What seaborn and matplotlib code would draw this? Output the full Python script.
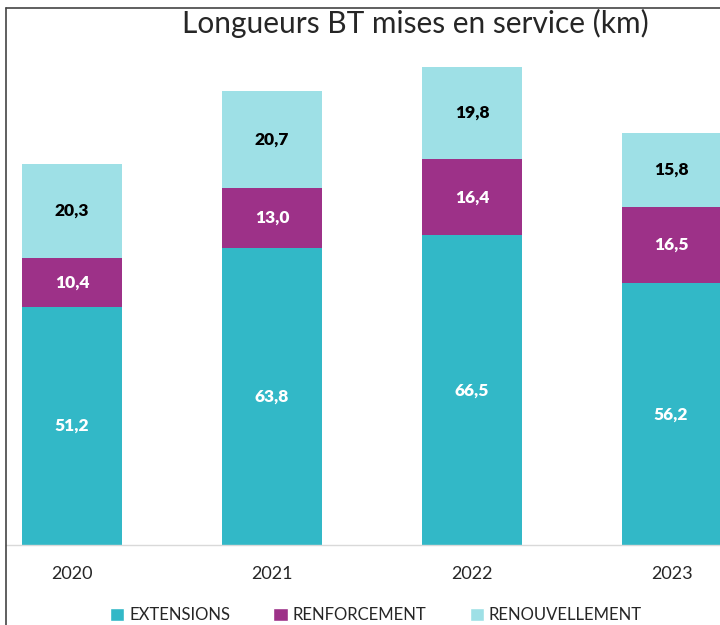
import pandas as pd
import seaborn as sns
import matplotlib.pyplot as plt
from matplotlib.patches import Patch
from matplotlib.lines import Line2D

# Valeurs (km)
years = ['2020', '2021', '2022', '2023']
extensions = [51.2, 63.8, 66.5, 56.2]
renforcement = [10.4, 13.0, 16.4, 16.5]
renouvellement = [20.3, 20.7, 19.8, 15.8]
series_names = ['EXTENSIONS', 'RENFORCEMENT', 'RENOUVELLEMENT']
colors = ['#32B8C7', '#9D3188', '#9EE0E6']
label_colors = ['white', 'white', 'black']

sns.set_style('white')
plt.rcParams['font.family'] = ['Lato', 'DejaVu Sans']

df = pd.DataFrame({'year': years, 'EXTENSIONS': extensions,
                   'RENFORCEMENT': renforcement, 'RENOUVELLEMENT': renouvellement})

fig = plt.figure(figsize=(7.2, 6.25), dpi=100)
ax = fig.add_axes([6 / 720, 80 / 625, 714 / 720, 512 / 625])

bottom = [0.0] * len(years)
for name, col, lc in zip(series_names, colors, label_colors):
    sns.barplot(data=df, x='year', y=name, order=years, color=col,
                bottom=bottom, width=0.5, ax=ax, saturation=1, linewidth=0)
    cont = ax.containers[-1]
    ax.bar_label(cont, labels=[f'{v:.1f}'.replace('.', ',') for v in df[name]],
                 label_type='center', color=lc, fontsize=12.5, fontweight='heavy')
    bottom = [b + v for b, v in zip(bottom, df[name])]

ax.set_xlim(-0.33, 3.24)
ax.set_ylim(0, 110)
ax.set_xlabel('')
ax.set_ylabel('')
ax.set_yticks([])
ax.tick_params(axis='x', length=0, pad=15, labelsize=13)
for s in ['top', 'left', 'right']:
    ax.spines[s].set_visible(False)
ax.spines['bottom'].set_color('#D9D9D9')
ax.spines['bottom'].set_linewidth(1)

fig.text(415 / 720, 1 - 23 / 625, 'Longueurs BT mises en service (km)',
         ha='center', va='center', fontsize=21.5)

handles = [Patch(facecolor=c, label=n) for c, n in zip(colors, series_names)]
fig.legend(handles=handles, loc='center', bbox_to_anchor=(376 / 720, 10 / 625),
           ncol=3, frameon=False, fontsize=12, handlelength=0.85, handleheight=0.85,
           handletextpad=0.3, columnspacing=2.6, borderaxespad=0)

# cadre autour du graphique (haut et gauche)
fig.add_artist(Line2D([6 / 720, 1], [1 - 8 / 625, 1 - 8 / 625],
                      transform=fig.transFigure, color='#444444', linewidth=1.2))
fig.add_artist(Line2D([6 / 720, 6 / 720], [0, 1 - 8 / 625],
                      transform=fig.transFigure, color='#444444', linewidth=1.2))

fig.savefig('out.png', dpi=100)
